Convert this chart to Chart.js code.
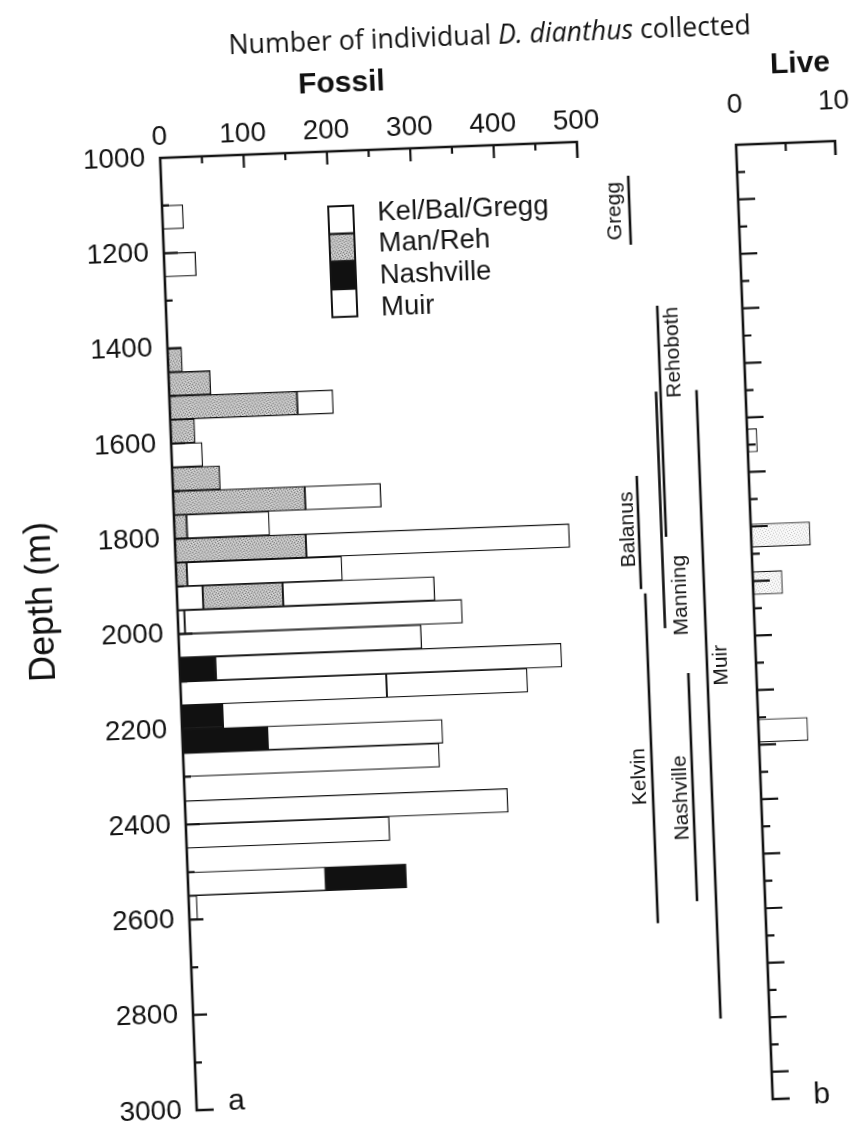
<!DOCTYPE html>
<html>
<head>
<meta charset="utf-8">
<title>D. dianthus by depth</title>
<script src="https://cdn.jsdelivr.net/npm/chart.js@4.4.0/dist/chart.umd.min.js"></script>
<style>
  html, body { margin: 0; padding: 0; background: #fff; overflow: hidden; }
  #page { position: absolute; left: 0; top: 0; width: 900px; height: 1131px;
          transform: rotate(-2.2deg); transform-origin: 427.5px 565.5px; }
  #page canvas { position: absolute; left: 0; top: 0; }
  .lbl { position: absolute; white-space: nowrap; color: #111; transform: translate(-50%, -50%); }
  #title { left: 510px; top: 36px; font: 28px "Open Sans", sans-serif; }
  .head { font: bold 30px "Liberation Sans Narrow", "Liberation Sans", Arial, sans-serif; }
  #depth { left: 39px; top: 587px; font: 36px "Liberation Sans", Arial, sans-serif;
           transform: translate(-50%, -50%) rotate(-90deg); }
  .panel { font: 30px "Liberation Sans", Arial, sans-serif; }
</style>
</head>
<body>
<div id="page">
  <canvas id="fossil" width="900" height="1131"></canvas>
  <canvas id="ranges" width="900" height="1131"></canvas>
  <canvas id="live" width="900" height="1131"></canvas>
  <div id="title" class="lbl">Number of individual <i>D. dianthus</i> collected</div>
  <div class="lbl head" style="left:360px;top:79px">Fossil</div>
  <div class="lbl head" style="left:819px;top:77px">Live</div>
  <div id="depth" class="lbl">Depth (m)</div>
  <div class="lbl panel" style="left:216px;top:1092px">a</div>
  <div class="lbl panel" style="left:801px;top:1108px">b</div>
</div>
<script>
// ---- fossil counts, 50 m depth bins (bin centre, m) ----
const depthBins   = [1125, 1225, 1425, 1475, 1525, 1575, 1625, 1675, 1725, 1775, 1825, 1875,
                     1925, 1975, 2025, 2075, 2125, 2175, 2225, 2275, 2375, 2425, 2525, 2575];
const kelBalGregg = [25, 38, 0, 0, 0, 0, 0, 0, 0, 0, 0, 0, 31, 8, 0, 0, 247, 0, 0, 0, 0, 0, 165, 10];
const manReh      = [0, 0, 17, 50, 153, 29, 0, 57, 158, 15, 157, 13, 96, 0, 0, 0, 0, 0, 0, 0, 0, 0, 0, 0];
const nashville   = [0, 0, 0, 0, 0, 0, 0, 0, 0, 0, 0, 0, 0, 0, 0, 43, 0, 50, 102, 0, 0, 0, 97, 0];
const muir        = [0, 0, 0, 0, 43, 0, 37, 0, 91, 99, 316, 186, 182, 333, 291, 415, 169, 0, 210, 307, 387, 244, 0, 0];

// ---- live counts ----
const liveDepth = [1640, 1840, 1940, 2250];
const liveCount = [1, 6, 3, 5];

// ---- depth ranges of the populations (m) ----
const rangeNames  = ['Gregg', 'Rehoboth', 'Balanus', 'Manning', 'Muir', 'Kelvin', 'Nashville'];
const rangeTop    = [1075, 1350, 1705, 1530, 1530, 1952, 2123];
const rangeBottom = [1220, 1835, 1943, 2027, 2850, 2645, 2602];

// ---- tick labels ----
const fossilTickLabels = [0, 100, 200, 300, 400, 500];
const liveTickLabels = [0, 10];
const depthTickLabels = [1000, 1200, 1400, 1600, 1800, 2000, 2200, 2400, 2600, 2800, 3000];

// layout of the range lines (column on a 0-14 strip) and of their labels
const rangeColumn = [4.3, 6.7, 4.0, 6.25, 10.3, 4.4, 8.4];
const rangeLabelDepth = [1148, 1449, 1817, 1959, 2109, 2336, 2384];
const rangeLabelOffset = [-15, 14, -11, 17, 14, -13, -12];

const ink = '#141414';
Chart.defaults.font.family = "'Liberation Sans', Arial, sans-serif";
Chart.defaults.color = ink;

function stipple(base, dark, light) {
  const c = document.createElement('canvas');
  c.width = c.height = 6;
  const g = c.getContext('2d');
  g.fillStyle = base; g.fillRect(0, 0, 6, 6);
  g.fillStyle = dark;
  [[0, 0], [3, 1], [1, 3], [4, 4], [5, 2], [2, 5]].forEach(p => g.fillRect(p[0], p[1], 1, 1));
  g.fillStyle = light;
  [[2, 0], [5, 1], [0, 2], [3, 3], [1, 5], [4, 5]].forEach(p => g.fillRect(p[0], p[1], 1, 1));
  return g.createPattern(c, 'repeat');
}
const grayFill = stipple('#bcbcbc', '#808080', '#e0e0e0');
const paleFill = stipple('#f6f6f6', '#c8c8c8', '#ffffff');

// axis brackets with inward ticks
const bracket = {
  id: 'bracket',
  afterDatasetsDraw(chart, args, o) {
    const { ctx, scales: { x, y } } = chart;
    const x0 = x.getPixelForValue(x.min), x1 = x.getPixelForValue(x.max);
    const yTop = y.getPixelForValue(y.min), yBottom = y.getPixelForValue(y.max);
    ctx.save();
    ctx.strokeStyle = ink;
    ctx.lineWidth = 2.6;
    ctx.beginPath();
    ctx.moveTo(x1, yTop + o.endTick);
    ctx.lineTo(x1, yTop);
    ctx.lineTo(x0, yTop);
    ctx.lineTo(x0, yBottom);
    ctx.lineTo(x0 + o.foot, yBottom);
    ctx.stroke();
    ctx.lineWidth = 2.2;
    ctx.beginPath();
    x.ticks.forEach(t => {
      if (t.value <= x.min || t.value >= x.max) return;
      const px = x.getPixelForValue(t.value);
      ctx.moveTo(px, yTop);
      ctx.lineTo(px, yTop + (o.xLong.includes(t.value) ? o.long : o.short));
    });
    const depths = o.yTicks ? o.yTicks(y) : y.ticks.map(t => t.value);
    depths.forEach((d, i) => {
      if (d <= y.min || d >= y.max) return;
      const py = y.getPixelForValue(d);
      const long = o.yLong ? o.yLong(d, i) : false;
      ctx.moveTo(x0, py);
      ctx.lineTo(x0 + (long ? o.long + 1 : o.short), py);
    });
    ctx.stroke();
    ctx.restore();
  }
};

// stacked swatch legend
const swatchLegend = {
  id: 'swatchLegend',
  afterDatasetsDraw(chart, args, o) {
    const { ctx, chartArea: a } = chart;
    const x0 = a.left + o.left, y0 = a.top + o.top;
    ctx.save();
    ctx.strokeStyle = ink;
    ctx.lineWidth = 2;
    ctx.font = o.font;
    ctx.textBaseline = 'middle';
    chart.data.datasets.forEach((ds, i) => {
      ctx.fillStyle = ds.backgroundColor;
      ctx.fillRect(x0, y0 + i * o.h, o.w, o.h);
      ctx.strokeRect(x0, y0 + i * o.h, o.w, o.h);
      ctx.fillStyle = ink;
      ctx.fillText(ds.label, x0 + o.w + o.gap, y0 + o.textTop + i * o.textStep);
    });
    ctx.restore();
  }
};

const fixWidth = w => s => { s.width = w; };
const fixHeight = h => s => { s.height = h; };

const stack = (label, values, fill) => ({
  label: label,
  data: values.map((v, i) => ({ x: v || null, y: depthBins[i] })),
  backgroundColor: fill,
  borderColor: ink,
  borderWidth: 1.3,
  borderSkipped: false,
  barPercentage: 1,
  categoryPercentage: 1
});

new Chart(document.getElementById('fossil'), {
  type: 'bar',
  data: {
    datasets: [
      stack('Kel/Bal/Gregg', kelBalGregg, '#ffffff'),
      stack('Man/Reh', manReh, grayFill),
      stack('Nashville', nashville, '#111111'),
      stack('Muir', muir, '#ffffff')
    ]
  },
  options: {
    indexAxis: 'y',
    responsive: false,
    animation: false,
    events: [],
    layout: { padding: { left: 66, right: 307, top: 68, bottom: 30 } },
    scales: {
      x: {
        type: 'linear', position: 'top', min: 0, max: 500, stacked: true,
        grid: { display: false }, border: { display: false },
        afterFit: fixHeight(80),
        ticks: {
          stepSize: 50, autoSkip: false, maxRotation: 0, padding: -4,
          font: { size: 28 },
          callback: v => fossilTickLabels.includes(v) ? String(v) : ''
        }
      },
      y: {
        type: 'linear', position: 'left', min: 1000, max: 3000, reverse: true,
        stacked: true, offset: false,
        grid: { display: false, offset: false }, border: { display: false },
        afterFit: fixWidth(110),
        ticks: {
          stepSize: 100, autoSkip: false, padding: 7,
          font: { size: 28 },
          callback: v => depthTickLabels.includes(v) ? String(v) : ''
        }
      }
    },
    plugins: {
      legend: { display: false },
      tooltip: { enabled: false },
      bracket: {
        endTick: 16, foot: 17, long: 13, short: 7,
        xLong: fossilTickLabels,
        yLong: d => depthTickLabels.includes(d)
      },
      swatchLegend: {
        left: 166, top: 55, w: 25, h: 27.7, gap: 24, textTop: 8, textStep: 31.8,
        font: "27.5px 'Liberation Sans', Arial, sans-serif"
      }
    }
  },
  plugins: [bracket, swatchLegend]
});

// range labels beside the vertical lines
const rangeLabels = {
  id: 'rangeLabels',
  afterDatasetsDraw(chart) {
    const { ctx, scales: { x, y } } = chart;
    ctx.save();
    ctx.fillStyle = ink;
    ctx.font = "21px 'Liberation Sans', Arial, sans-serif";
    ctx.textAlign = 'center';
    ctx.textBaseline = 'middle';
    rangeNames.forEach((name, i) => {
      ctx.save();
      ctx.translate(x.getPixelForValue(rangeColumn[i]) + rangeLabelOffset[i],
                    y.getPixelForValue(rangeLabelDepth[i]));
      ctx.rotate(-Math.PI / 2);
      ctx.fillText(name, 0, 0);
      ctx.restore();
    });
    ctx.restore();
  }
};

new Chart(document.getElementById('ranges'), {
  type: 'scatter',
  data: {
    datasets: rangeNames.map((name, i) => ({
      label: name,
      data: [{ x: rangeColumn[i], y: rangeTop[i] }, { x: rangeColumn[i], y: rangeBottom[i] }],
      showLine: true,
      borderColor: ink,
      borderWidth: 2.6,
      pointRadius: 0
    }))
  },
  options: {
    responsive: false,
    animation: false,
    events: [],
    layout: { padding: { left: 600, right: 160, top: 148, bottom: 30 } },
    scales: {
      x: { type: 'linear', min: 0, max: 14, display: false },
      y: { type: 'linear', min: 1000, max: 3000, reverse: true, display: false }
    },
    plugins: { legend: { display: false }, tooltip: { enabled: false } }
  },
  plugins: [rangeLabels]
});

const liveTickCount = 35;

new Chart(document.getElementById('live'), {
  type: 'bar',
  data: {
    datasets: [{
      label: 'Live',
      data: liveDepth.map((d, i) => ({ x: liveCount[i], y: d })),
      backgroundColor: ['#ffffff', paleFill, paleFill, '#ffffff'],
      borderColor: ink,
      borderWidth: 1.3,
      borderSkipped: false,
      barPercentage: 0.5,
      categoryPercentage: 1
    }]
  },
  options: {
    indexAxis: 'y',
    responsive: false,
    animation: false,
    events: [],
    layout: { padding: { left: 752, right: 49, top: 77, bottom: 19 } },
    scales: {
      x: {
        type: 'linear', position: 'top', min: 0, max: 10,
        grid: { display: false }, border: { display: false },
        afterFit: fixHeight(80),
        ticks: {
          stepSize: 5, autoSkip: false, maxRotation: 0, padding: 15,
          font: { size: 28 },
          callback: v => liveTickLabels.includes(v) ? String(v) : ''
        }
      },
      y: {
        type: 'linear', position: 'left', min: 1019, max: 3024, reverse: true, offset: false,
        grid: { display: false, offset: false }, border: { display: false },
        ticks: { display: false },
        afterFit: fixWidth(0),
        afterBuildTicks: s => { s.ticks = [{ value: s.min }, { value: s.max }]; }
      }
    },
    plugins: {
      legend: { display: false },
      tooltip: { enabled: false },
      bracket: {
        endTick: 14, foot: 17, long: 16, short: 8,
        xLong: [],
        yTicks: y => Array.from({ length: liveTickCount + 1 },
                               (_, i) => y.min + i * (y.max - y.min) / liveTickCount),
        yLong: (d, i) => i % 2 === 0
      }
    }
  },
  plugins: [bracket]
});

// squeeze the title to the width it has in the figure
const title = document.getElementById('title');
title.style.transform = 'translate(-50%, -50%) scaleX(' + (522 / title.offsetWidth).toFixed(3) + ')';
</script>
</body>
</html>
